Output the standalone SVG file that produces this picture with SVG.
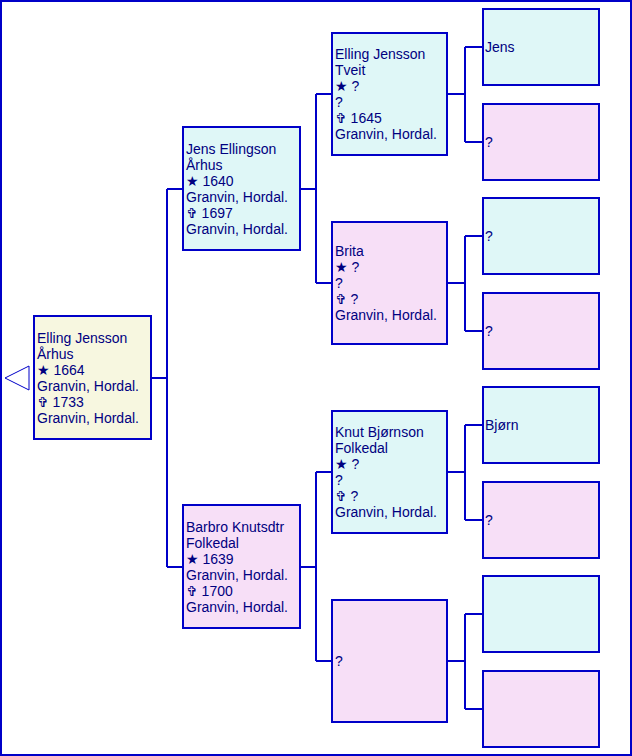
<svg xmlns="http://www.w3.org/2000/svg" width="632" height="756" viewBox="0 0 632 756">
<style>
.b{stroke:#0000C8;stroke-width:2}
.m{fill:#DFF7F7}
.f{fill:#F7DFF7}
.r{fill:#F7F7E0}
.c{stroke:#0000C8;stroke-width:2;fill:none}
text{font-family:"Liberation Sans",Arial,"DejaVu Sans",sans-serif;font-size:14px;fill:#000080}
</style>
<rect x="1" y="1" width="630" height="754" fill="#FFFFFF" stroke="#0000C8" stroke-width="2"/>
<g id="connectors">
<polygon points="5,378 29,366 29,390" fill="#FFFFFF" stroke="#0000C8" stroke-width="1"/>
<path class="c" d="M152,378H167M167,189V567M167,189H183M167,567H183"/>
<path class="c" d="M300,189H316M316,94V283M316,94H332M316,283H332"/>
<path class="c" d="M300,567H316M316,472V661M316,472H332M316,661H332"/>
<path class="c" d="M447,94H465M465,47V142M465,47H483M465,142H483"/>
<path class="c" d="M447,283H465M465,236V331M465,236H483M465,331H483"/>
<path class="c" d="M447,472H465M465,425V520M465,425H483M465,520H483"/>
<path class="c" d="M447,661H465M465,614V709M465,614H483M465,709H483"/>
</g>
<g id="root">
<rect class="b r" x="34" y="316" width="117" height="123"/>
<text x="37" y="343">Elling Jensson</text>
<text x="37" y="359">Århus</text>
<text x="37" y="375">★ 1664</text>
<text x="37" y="391">Granvin, Hordal.</text>
<text x="37" y="407">✞ 1733</text>
<text x="37" y="423">Granvin, Hordal.</text>
</g>
<g id="father">
<rect class="b m" x="183" y="127" width="117" height="123"/>
<text x="186" y="154">Jens Ellingson</text>
<text x="186" y="170">Århus</text>
<text x="186" y="186">★ 1640</text>
<text x="186" y="202">Granvin, Hordal.</text>
<text x="186" y="218">✞ 1697</text>
<text x="186" y="234">Granvin, Hordal.</text>
</g>
<g id="mother">
<rect class="b f" x="183" y="505" width="117" height="123"/>
<text x="186" y="532">Barbro Knutsdtr</text>
<text x="186" y="548">Folkedal</text>
<text x="186" y="564">★ 1639</text>
<text x="186" y="580">Granvin, Hordal.</text>
<text x="186" y="596">✞ 1700</text>
<text x="186" y="612">Granvin, Hordal.</text>
</g>
<g id="ff">
<rect class="b m" x="332" y="33" width="115" height="122"/>
<text x="335" y="59">Elling Jensson</text>
<text x="335" y="75">Tveit</text>
<text x="335" y="91">★ ?</text>
<text x="335" y="107">?</text>
<text x="335" y="123">✞ 1645</text>
<text x="335" y="139">Granvin, Hordal.</text>
</g>
<g id="fm">
<rect class="b f" x="332" y="222" width="115" height="122"/>
<text x="335" y="256">Brita</text>
<text x="335" y="272">★ ?</text>
<text x="335" y="288">?</text>
<text x="335" y="304">✞ ?</text>
<text x="335" y="320">Granvin, Hordal.</text>
</g>
<g id="mf">
<rect class="b m" x="332" y="411" width="115" height="122"/>
<text x="335" y="437">Knut Bjørnson</text>
<text x="335" y="453">Folkedal</text>
<text x="335" y="469">★ ?</text>
<text x="335" y="485">?</text>
<text x="335" y="501">✞ ?</text>
<text x="335" y="517">Granvin, Hordal.</text>
</g>
<g id="mm">
<rect class="b f" x="332" y="600" width="115" height="122"/>
<text x="335" y="666">?</text>
</g>
<g id="fff">
<rect class="b m" x="483" y="9" width="116" height="76"/>
<text x="485" y="52">Jens</text>
</g>
<g id="ffm">
<rect class="b f" x="483" y="104" width="116" height="76"/>
<text x="485" y="147">?</text>
</g>
<g id="fmf">
<rect class="b m" x="483" y="198" width="116" height="76"/>
<text x="485" y="241">?</text>
</g>
<g id="fmm">
<rect class="b f" x="483" y="293" width="116" height="76"/>
<text x="485" y="336">?</text>
</g>
<g id="mff">
<rect class="b m" x="483" y="387" width="116" height="76"/>
<text x="485" y="430">Bjørn</text>
</g>
<g id="mfm">
<rect class="b f" x="483" y="482" width="116" height="76"/>
<text x="485" y="525">?</text>
</g>
<g id="mmf">
<rect class="b m" x="483" y="576" width="116" height="76"/>
</g>
<g id="mmm">
<rect class="b f" x="483" y="671" width="116" height="76"/>
</g>
</svg>
